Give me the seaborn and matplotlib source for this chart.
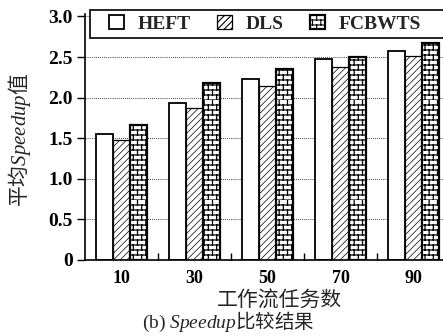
import warnings
import numpy as np
import pandas as pd
import matplotlib
matplotlib.use("Agg")
import matplotlib.pyplot as plt
import matplotlib.hatch as mhatch
from matplotlib.path import Path
from matplotlib.patches import Rectangle
import seaborn as sns

warnings.filterwarnings("ignore")

TASKS = ["10", "30", "50", "70", "90"]
ALGOS = ["HEFT", "DLS", "FCBWTS"]
HEFT = [1.55, 1.93, 2.23, 2.47, 2.58]
DLS = [1.48, 1.87, 2.14, 2.38, 2.51]
FCBWTS = [1.66, 2.18, 2.35, 2.50, 2.67]
Y_TICKS = [0, 0.5, 1.0, 1.5, 2.0, 2.5, 3.0]
Y_TICK_LABELS = ["0", "0.5", "1.0", "1.5", "2.0", "2.5", "3.0"]


class BrickHatch(mhatch.HatchPatternBase):
    # brick wall, used when the hatch string contains 'b'
    def __init__(self, hatch, density):
        k = hatch.count("b")
        self.rows = 5 * k
        self.cols = 3 * k
        self.num_vertices = 2 * self.rows + 2 * self.rows * self.cols

    def set_vertices_and_codes(self, vertices, codes):
        h = 1.0 / self.rows
        w = 1.0 / self.cols
        i = 0
        for r in range(self.rows):
            y = r * h
            vertices[i] = (0.0, y)
            vertices[i + 1] = (1.0, y)
            codes[i] = Path.MOVETO
            codes[i + 1] = Path.LINETO
            i += 2
        for r in range(self.rows):
            y = r * h
            off = (r % 2) * w / 2
            for c in range(self.cols):
                x = c * w + off
                vertices[i] = (x, y)
                vertices[i + 1] = (x, y + h)
                codes[i] = Path.MOVETO
                codes[i + 1] = Path.LINETO
                i += 2


mhatch._hatch_types.append(BrickHatch)


def main():
    sns.set_theme(style="ticks")
    plt.rcParams["font.family"] = ["Liberation Serif", "Noto Sans CJK SC"]
    plt.rcParams["mathtext.fontset"] = "custom"
    plt.rcParams["mathtext.rm"] = "Liberation Serif"
    plt.rcParams["mathtext.it"] = "Liberation Serif:italic"
    plt.rcParams["mathtext.bf"] = "Liberation Serif:bold"
    plt.rcParams["hatch.linewidth"] = 0.8

    df = pd.DataFrame({
        "tasks": TASKS * 3,
        "algo": np.repeat(ALGOS, len(TASKS)),
        "speedup": HEFT + DLS + FCBWTS,
    })

    fig = plt.figure(figsize=(4.43, 3.36), dpi=100)
    ax = fig.add_axes([85 / 443, 1 - 260 / 336, 365 / 443, 246 / 336])

    sns.barplot(data=df, x="tasks", y="speedup", hue="algo",
                order=TASKS, hue_order=ALGOS, width=0.69,
                palette=["white"] * 3, saturation=1, edgecolor="black",
                linewidth=1.0, legend=False, ax=ax)

    hatches = [None, "/////", "bbbb"]
    widths = [1.3, 0.9, 1.6]
    hatch_lw = [0.8, 0.5, 0.9]
    for cont, hatch, lw, hlw in zip(ax.containers, hatches, widths, hatch_lw):
        for bar in cont:
            bar.set_facecolor("white")
            bar.set_hatch(hatch)
            bar.set_linewidth(lw)
            if hasattr(bar, "set_hatch_linewidth"):
                bar.set_hatch_linewidth(hlw)

    ax.set_xlim(-0.5, 4.5)
    ax.set_ylim(0, 3.03)
    ax.set_yticks(Y_TICKS)
    ax.set_yticklabels(Y_TICK_LABELS)
    ax.set_xticks(range(len(TASKS)))
    ax.set_xticklabels(TASKS)
    ax.set_xticks(np.arange(0.5, len(TASKS) - 0.5, 1.0), minor=True)

    for lab in ax.get_xticklabels():
        lab.set_fontweight("bold")
        lab.set_fontsize(13)
    for lab in ax.get_yticklabels():
        lab.set_fontweight("bold")
        lab.set_fontsize(14)

    ax.tick_params(axis="y", direction="out", length=6, width=1,
                   pad=3, colors="black")
    ax.tick_params(axis="x", which="major", length=0, pad=7, colors="black")
    ax.tick_params(axis="x", which="minor", direction="in", length=5,
                   width=1, colors="black")

    ax.yaxis.grid(True, linestyle=(0, (1, 1.5)), color="black", linewidth=0.6)
    ax.set_axisbelow(True)

    for side in ["top", "right"]:
        ax.spines[side].set_visible(False)
    for side in ["left", "bottom"]:
        ax.spines[side].set_color("black")
        ax.spines[side].set_linewidth(1.2)

    ax.set_xlabel("工作流任务数", fontsize=15, family="Noto Sans CJK SC")
    ax.xaxis.set_label_coords((279 - 85) / 365, -0.12)
    ax.set_ylabel("平均$\\mathit{Speedup}$值", fontsize=15,
                  family="Noto Sans CJK SC")
    ax.yaxis.set_label_coords((33 - 85) / 365, (260 - 140) / 246)

    # legend box runs off the right edge, like the source figure
    ax.add_patch(Rectangle(((90 - 85) / 365, (260 - 38) / 246),
                           1.2, 28 / 246, transform=ax.transAxes,
                           facecolor="white", edgecolor="black",
                           linewidth=1.2, clip_on=False, zorder=4))
    leg = ax.legend(ax.containers, ALGOS, ncol=3, loc="center left",
                    bbox_to_anchor=((109 - 85) / 365, (260 - 24) / 246),
                    frameon=False, borderpad=0, borderaxespad=0,
                    handlelength=0.78, handleheight=0.72,
                    handletextpad=0.7, columnspacing=1.35,
                    prop={"family": "Liberation Serif", "weight": "bold",
                          "size": 14})
    leg.set_zorder(5)

    fig.text(228 / 443, 1 - 322 / 336,
             "$\\mathrm{(b)\\ }\\mathit{Speedup}$比较结果",
             ha="center", va="center", fontsize=14,
             family="Noto Sans CJK SC")

    fig.savefig("out.png", dpi=100)


if __name__ == "__main__":
    main()
